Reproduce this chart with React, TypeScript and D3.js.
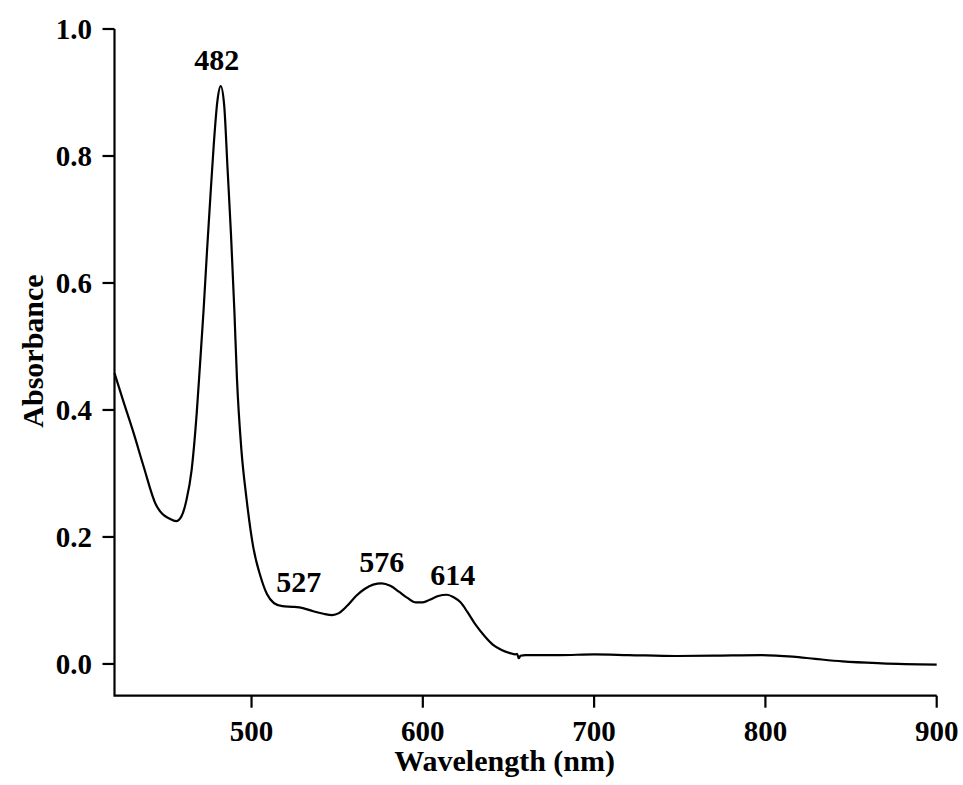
import React from "react";
import * as d3 from "d3";

// UV-Vis absorption spectrum
const wavelengths = [
  420, 425, 431, 437, 444, 448, 452, 456, 459, 462, 465, 468, 470, 472, 474, 476, 478, 480, 482,
  484, 486, 488, 490, 491.5, 494, 497, 501, 505, 509, 513, 518, 524, 530, 536, 542, 547, 551, 556,
  561, 566, 571, 576, 581, 586, 591, 596, 600, 604, 609, 614, 618, 622, 626, 631, 636, 641, 646,
  651, 654, 655, 656, 657, 660, 680, 700, 720, 748, 770, 797, 816, 829, 845, 868, 900,
];
const absorbance = [
  0.458, 0.415, 0.365, 0.311, 0.252, 0.236, 0.229, 0.225, 0.232, 0.258, 0.305, 0.395, 0.475, 0.557,
  0.65, 0.737, 0.82, 0.885, 0.91, 0.881, 0.78, 0.677, 0.555, 0.449, 0.34, 0.262, 0.184, 0.14, 0.11,
  0.096, 0.091, 0.09, 0.088, 0.083, 0.079, 0.077, 0.08, 0.092, 0.107, 0.118, 0.125, 0.127, 0.123,
  0.114, 0.104, 0.097, 0.097, 0.101, 0.107, 0.109, 0.105, 0.097, 0.082, 0.061, 0.044, 0.03, 0.022,
  0.017, 0.015, 0.016, 0.009, 0.013, 0.014, 0.014, 0.015, 0.014, 0.0125, 0.013, 0.014, 0.0115,
  0.008, 0.004, 0.001, -0.001,
];

// Annotated band maxima
const peakLabels = ["482", "527", "576", "614"];
const peakWavelengths = [482, 527, 576, 614];
const peakValues = [0.91, 0.09, 0.127, 0.109];

const xTicks = [500, 600, 700, 800, 900];
const yTicks = [0.0, 0.2, 0.4, 0.6, 0.8, 1.0];

const W = 963;
const H = 785;
const FONT = "'Liberation Serif', 'Times New Roman', serif";

export default function App() {
  const x = d3.scaleLinear().domain([420, 900]).range([114.5, 936.7]);
  const y = d3.scaleLinear().domain([-0.05, 1.0]).range([695.7, 29]);

  const pts = wavelengths.map((w, i) => [w, absorbance[i]] as [number, number]);
  const line = d3
    .line<[number, number]>()
    .x((d) => x(d[0]))
    .y((d) => y(d[1]))
    .curve(d3.curveMonotoneX);

  const x0 = x.range()[0];
  const x1 = x.range()[1];
  const yBottom = y.range()[0];
  const yTop = y(1.0);
  const tickLen = 12;

  const labelDx = [-4, 1, 0, 6];
  const labelDy = [-16, -15, -11, -10];

  return (
    <svg
      width={W}
      height={H}
      style={{ position: "absolute", left: 0, top: 0, background: "#fff" }}
      fontFamily={FONT}
      fontWeight="bold"
    >
      <rect x={0} y={0} width={W} height={H} fill="#fff" />

      {/* spectrum */}
      <path d={line(pts) ?? ""} fill="none" stroke="#000" strokeWidth={2.2} strokeLinejoin="round" />

      {/* axes */}
      <path
        d={`M${x0},${yTop}V${yBottom}H${x1}`}
        fill="none"
        stroke="#000"
        strokeWidth={2.2}
      />
      {xTicks.map((t) => (
        <g key={"x" + t}>
          <line x1={x(t)} x2={x(t)} y1={yBottom} y2={yBottom + tickLen} stroke="#000" strokeWidth={2.2} />
          <text x={x(t)} y={741} textAnchor="middle" fontSize={29} fill="#000">
            {t}
          </text>
        </g>
      ))}
      {yTicks.map((t) => (
        <g key={"y" + t}>
          <line x1={x0 - tickLen} x2={x0} y1={y(t)} y2={y(t)} stroke="#000" strokeWidth={2.2} />
          <text x={92} y={y(t)} dy="0.34em" textAnchor="end" fontSize={29} fill="#000">
            {t.toFixed(1)}
          </text>
        </g>
      ))}

      {/* axis titles */}
      <text x={(x0 + x1) / 2 - 21} y={771} textAnchor="middle" fontSize={30} fill="#000">
        Wavelength (nm)
      </text>
      <text
        transform={`translate(43,${351}) rotate(-90)`}
        textAnchor="middle"
        fontSize={30}
        fill="#000"
      >
        Absorbance
      </text>

      {/* peak annotations */}
      {peakLabels.map((lab, i) => (
        <text
          key={lab}
          x={x(peakWavelengths[i]) + labelDx[i]}
          y={y(peakValues[i]) + labelDy[i]}
          textAnchor="middle"
          fontSize={30}
          fill="#000"
        >
          {lab}
        </text>
      ))}
    </svg>
  );
}
